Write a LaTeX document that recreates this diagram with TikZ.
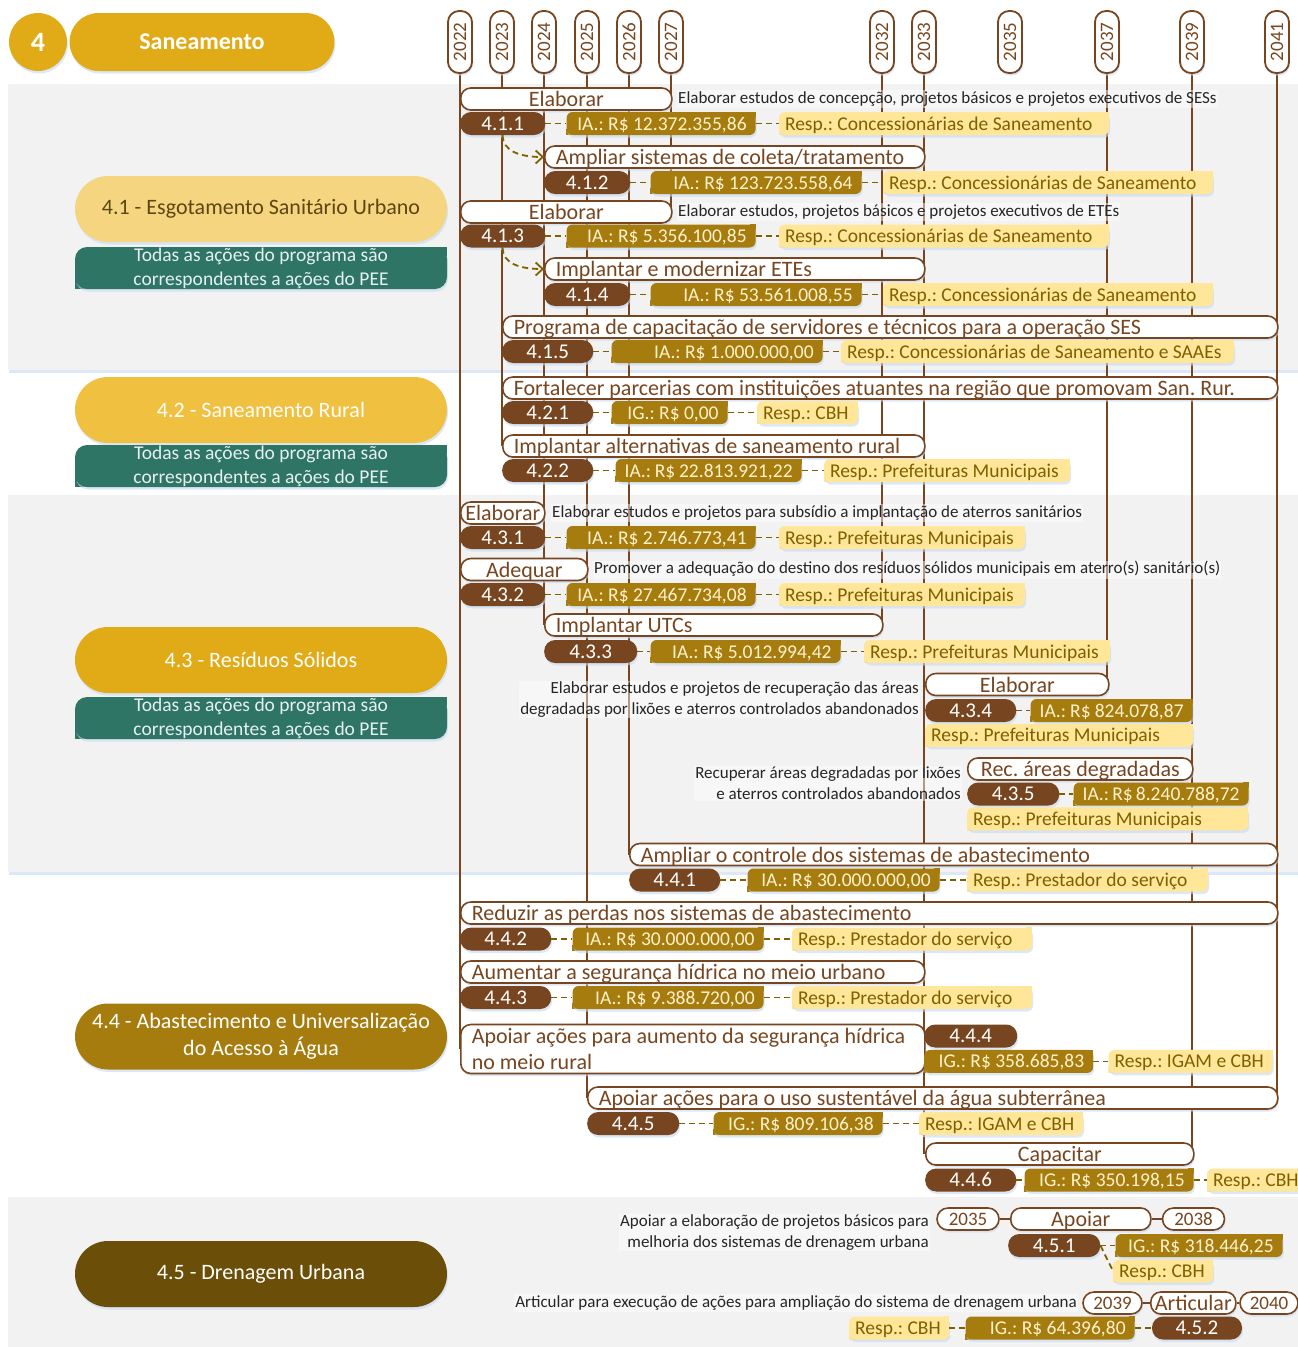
\documentclass[tikz,border=0pt]{standalone}
\usepackage{fontspec}
\setmainfont{Carlito}
\usepackage{xcolor}
\usepackage{tikz}
\usetikzlibrary{arrows.meta,positioning,backgrounds}
\definecolor{actbrown}{HTML}{774620}
\definecolor{iagold}{HTML}{A67C0E}
\definecolor{iatext}{HTML}{FFF2CC}
\definecolor{respfill}{HTML}{FFE699}
\definecolor{resptext}{HTML}{7F6000}
\definecolor{dashcol}{HTML}{7F6000}
\definecolor{desctext}{HTML}{262626}
\definecolor{bandgray}{HTML}{F2F2F2}
\definecolor{peeteal}{HTML}{2E7566}
\definecolor{peetext}{HTML}{E6F0EE}
\definecolor{headgold}{HTML}{E1AB18}
\definecolor{progone}{HTML}{F5D580}
\definecolor{progonetext}{HTML}{5C4712}
\definecolor{progtwo}{HTML}{F0C040}
\definecolor{progthree}{HTML}{E1AB18}
\definecolor{progfour}{HTML}{A67C0E}
\definecolor{progfive}{HTML}{6B4F08}
\definecolor{shadowblue}{HTML}{C5D9F1}
\pgfdeclarelayer{bands}
\pgfdeclarelayer{lines}
\pgfsetlayers{bands,lines,main}
\newcommand{\fsz}[2]{\fontsize{#1pt}{#2pt}\selectfont}
\tikzset{
  shad/.style={preaction={fill=shadowblue, opacity=0.6,
               transform canvas={xshift=1pt, yshift=-2.5pt}}},
  diagfill/.style 2 args={fill=#1, rounded corners=#2,
    append after command={\pgfextra{\pgfinterruptpath
      \fill[#1, sharp corners] (\tikzlastnode.north east) rectangle
        ([xshift=-#2, yshift=-#2]\tikzlastnode.north east);
      \fill[#1, sharp corners] (\tikzlastnode.south west) rectangle
        ([xshift=#2, yshift=#2]\tikzlastnode.south west);
      \endpgfinterruptpath}}},
  band/.style={fill=bandgray, shad},
  yearbase/.style={draw=actbrown, line width=1.8pt, fill=white, rounded corners=11pt,
               minimum width=62pt, minimum height=24pt, inner sep=0pt,
               font=\fsz{19}{22}, text=actbrown, shad},
  yearcap/.style={yearbase, rotate=90},
  yearflat/.style={yearbase, minimum height=22pt, line width=1.6pt},
  actbox/.style={draw=actbrown, line width=1.6pt, fill=white, rounded corners=10pt, shad,
               minimum height=22pt, inner xsep=3pt, inner ysep=1pt,
               text height=17.5pt, text depth=2.5pt, font=\fsz{22}{26},
               text=actbrown, anchor=west},
  actleft/.style={actbox, inner xsep=11pt, text width=#1, align=flush left},
  idpill/.style={fill=actbrown, rounded corners=11pt, shad, minimum height=23pt,
               inner xsep=2pt, inner ysep=1pt, text height=17pt, text depth=4pt,
               font=\fsz{21}{24}, text=white, anchor=west},
  iabox/.style={diagfill={iagold}{6pt}, shad, minimum height=23pt, inner xsep=9pt,
               inner ysep=1pt, text height=17pt, text depth=4pt, font=\fsz{19.5}{23},
               text=iatext, text width=#1, align=flush right},
  respbox/.style={diagfill={respfill}{6pt}, shad, minimum height=23pt, inner xsep=6pt,
               inner ysep=1pt, text height=17pt, text depth=4pt, font=\fsz{19.5}{23},
               text=resptext, text width=#1, align=flush left},
  desc/.style={font=\fsz{17}{21}, text=desctext, fill=white, fill opacity=0.45,
               text opacity=1, inner sep=1pt, text height=12pt, text depth=4pt},
  descr/.style={desc, align=flush right, anchor=east, text height=, text depth=},
  progpill/.style={rounded corners=33pt, minimum width=372pt, minimum height=66pt, shad,
               font=\fsz{22}{27}, text=white, align=center},
  pee/.style={diagfill={peeteal}{12pt}, shad, minimum width=372pt, minimum height=42pt,
               inner sep=0pt, font=\fsz{19.5}{24}, text=peetext, align=center},
  headcirc/.style={circle, fill=headgold, minimum size=58pt, inner sep=0pt, shad,
               font=\bfseries\fsz{28}{30}, text=white},
  headpill/.style={fill=headgold, rounded corners=29pt, minimum width=265pt,
               minimum height=58pt, shad, font=\bfseries\fsz{24}{28}, text=white},
  dashlink/.style={draw=dashcol, line width=1.8pt, dash pattern=on 6pt off 4pt},
  dasharrow/.style={dashlink, -{Straight Barb[length=7pt, width=13pt]}},
  yearline/.style={draw=actbrown, line width=2pt},
}

\begin{document}
\frenchspacing
\begin{tikzpicture}[x=1pt, y=-1pt]
  \useasboundingbox (0,0) rectangle (1298,1347);

  % bands
  \begin{pgfonlayer}{bands}
    \fill[band] (8,84) rectangle (1298,370);
    \fill[band] (8,495) rectangle (1298,872);
    \fill[band] (8,1197) rectangle (1305,1347);
  \end{pgfonlayer}

  % header
  \node[headcirc] (num) at (38,42) {4};
  \node[headpill] (head) at (202,42) {Saneamento};

  % years
  \foreach \yr/\xx in {2022/460, 2023/502, 2024/544, 2025/587, 2026/629, 2027/671,
                       2032/882, 2033/924, 2035/1010, 2037/1107, 2039/1192, 2041/1277}
    \node[yearcap] (y\yr) at (\xx,42) {\yr};

  % programs
  \node[progpill, fill=progone, text=progonetext] (g41) at (261,209) {4.1 - Esgotamento Sanitário Urbano};
  \node[pee] (pee41) at (261,268) {Todas as ações do programa são\\correspondentes a ações do PEE};
  \node[progpill, fill=progtwo] (g42) at (261,410) {4.2 - Saneamento Rural};
  \node[pee] (pee42) at (261,466) {Todas as ações do programa são\\correspondentes a ações do PEE};
  \node[progpill, fill=progthree] (g43) at (261,660) {4.3 - Resíduos Sólidos};
  \node[pee] (pee43) at (261,718) {Todas as ações do programa são\\correspondentes a ações do PEE};
  \node[progpill, fill=progfour] (g44) at (261,1036.5) {4.4 - Abastecimento e Universalização\\do Acesso à Água};
  \node[progpill, fill=progfive] (g45) at (261,1274) {4.5 - Drenagem Urbana};

  % 4.1.1
  \node[actbox, minimum width=211pt] (t411) at (460,99) {Elaborar};
  \node[desc, anchor=west] (d411) at (677,99) {Elaborar estudos de concepção, projetos básicos e projetos executivos de SESs};
  \node[idpill, minimum width=85pt] (p411) at (460,123.5) {4.1.1};
  \node[iabox=171pt, right=21pt of p411] (a411) {IA.:~R\$~12.372.355,86};
  \node[respbox=318pt, right=23pt of a411] (r411) {Resp.:~Concessionárias~de~Saneamento};
  % 4.1.2
  \node[actleft=358pt] (t412) at (544,157) {Ampliar sistemas de coleta/tratamento};
  \node[idpill, minimum width=86pt] (p412) at (544,182.5) {4.1.2};
  \node[iabox=193pt, right=20pt of p412] (a412) {IA.:~R\$~123.723.558,64};
  \node[respbox=318pt, right=21pt of a412] (r412) {Resp.:~Concessionárias~de~Saneamento};
  % 4.1.3
  \node[actbox, minimum width=211pt] (t413) at (460,212) {Elaborar};
  \node[desc, anchor=west] (d413) at (677,212) {Elaborar estudos, projetos básicos e projetos executivos de ETEs};
  \node[idpill, minimum width=85pt] (p413) at (460,236) {4.1.3};
  \node[iabox=171pt, right=21pt of p413] (a413) {IA.:~R\$~5.356.100,85};
  \node[respbox=318pt, right=23pt of a413] (r413) {Resp.:~Concessionárias~de~Saneamento};
  % 4.1.4
  \node[actleft=358pt] (t414) at (544,269) {Implantar e modernizar ETEs};
  \node[idpill, minimum width=86pt] (p414) at (544,294.5) {4.1.4};
  \node[iabox=193pt, right=20pt of p414] (a414) {IA.:~R\$~53.561.008,55};
  \node[respbox=318pt, right=21pt of a414] (r414) {Resp.:~Concessionárias~de~Saneamento};
  % 4.1.5
  \node[actleft=753pt] (t415) at (502,327) {Programa de capacitação de servidores e técnicos para a operação SES};
  \node[idpill, minimum width=91pt] (p415) at (502,351.5) {4.1.5};
  \node[iabox=193pt, right=18pt of p415] (a415) {IA.:~R\$~1.000.000,00};
  \node[respbox=381pt, right=18pt of a415] (r415) {Resp.:~Concessionárias~de~Saneamento~e~SAAEs};

  % 4.2.1
  \node[actleft=753pt] (t421) at (502,388) {Fortalecer parcerias com instituições atuantes na região que promovam San. Rur.};
  \node[idpill, minimum width=91pt] (p421) at (502,412.5) {4.2.1};
  \node[iabox=98pt, right=18pt of p421] (a421) {IG.:~R\$~0,00};
  \node[respbox=89pt, right=29pt of a421] (r421) {Resp.:~CBH};
  % 4.2.2
  \node[actleft=400pt] (t422) at (502,446) {Implantar alternativas de saneamento rural};
  \node[idpill, minimum width=91pt] (p422) at (502,470.5) {4.2.2};
  \node[iabox=168pt, right=22pt of p422] (a422) {IA.:~R\$~22.813.921,22};
  \node[respbox=234pt, right=22pt of a422] (r422) {Resp.:~Prefeituras~Municipais};

  % 4.3.1
  \node[actbox, minimum width=84pt] (t431) at (460,513) {Elaborar};
  \node[desc, anchor=west] (d431) at (551,513) {Elaborar estudos e projetos para subsídio a implantação de aterros sanitários};
  \node[idpill, minimum width=85pt] (p431) at (460,537.5) {4.3.1};
  \node[iabox=171pt, right=21pt of p431] (a431) {IA.:~R\$~2.746.773,41};
  \node[respbox=234pt, right=23pt of a431] (r431) {Resp.:~Prefeituras~Municipais};
  % 4.3.2
  \node[actbox, minimum width=127pt] (t432) at (460,569.5) {Adequar};
  \node[desc, anchor=west] (d432) at (593,569.5) {Promover a adequação do destino dos resíduos sólidos municipais em aterro(s) sanitário(s)};
  \node[idpill, minimum width=85pt] (p432) at (460,594.5) {4.3.2};
  \node[iabox=171pt, right=21pt of p432] (a432) {IA.:~R\$~27.467.734,08};
  \node[respbox=234pt, right=23pt of a432] (r432) {Resp.:~Prefeituras~Municipais};
  % 4.3.3
  \node[actleft=316pt] (t433) at (544,625) {Implantar UTCs};
  \node[idpill, minimum width=93pt] (p433) at (544,651.5) {4.3.3};
  \node[iabox=172pt, right=13pt of p433] (a433) {IA.:~R\$~5.012.994,42};
  \node[respbox=234pt, right=23pt of a433] (r433) {Resp.:~Prefeituras~Municipais};
  % 4.3.4
  \node[descr] (d434) at (920,699.5) {Elaborar estudos e projetos de recuperação das áreas\\degradadas por lixões e aterros controlados abandonados};
  \node[actbox, minimum width=183pt] (t434) at (925,684.5) {Elaborar};
  \node[idpill, minimum width=91pt] (p434) at (925,710.5) {4.3.4};
  \node[iabox=144pt, right=14pt of p434] (a434) {IA.:~R\$~824.078,87};
  \node[respbox=256pt, below=1.5pt of p434.south west, anchor=north west] (r434) {Resp.:~Prefeituras~Municipais};
  % 4.3.5
  \node[descr] (d435) at (962,783.5) {Recuperar áreas degradadas por lixões\\e aterros controlados abandonados};
  \node[actbox, minimum width=225pt] (t435) at (967,769) {Rec. áreas degradadas};
  \node[idpill, minimum width=92pt] (p435) at (967,794) {4.3.5};
  \node[iabox=157pt, right=14pt of p435] (a435) {IA.:~R\$~8.240.788,72};
  \node[respbox=269pt, below=1.5pt of p435.south west, anchor=north west] (r435) {Resp.:~Prefeituras~Municipais};

  % 4.4.1
  \node[actleft=626pt] (t441) at (629,854.5) {Ampliar o controle dos sistemas de abastecimento};
  \node[idpill, minimum width=91pt] (p441) at (629,880) {4.4.1};
  \node[iabox=174pt, right=27pt of p441] (a441) {IA.:~R\$~30.000.000,00};
  \node[respbox=229pt, right=27pt of a441] (r441) {Resp.:~Prestador~do~serviço};
  % 4.4.2
  \node[actleft=795pt] (t442) at (460,913) {Reduzir as perdas nos sistemas de abastecimento};
  \node[idpill, minimum width=91pt] (p442) at (460,939) {4.4.2};
  \node[iabox=173pt, right=21pt of p442] (a442) {IA.:~R\$~30.000.000,00};
  \node[respbox=228pt, right=28pt of a442] (r442) {Resp.:~Prestador~do~serviço};
  % 4.4.3
  \node[actleft=442pt] (t443) at (460,972) {Aumentar a segurança hídrica no meio urbano};
  \node[idpill, minimum width=91pt] (p443) at (460,997.5) {4.4.3};
  \node[iabox=173pt, right=21pt of p443] (a443) {IA.:~R\$~9.388.720,00};
  \node[respbox=228pt, right=28pt of a443] (r443) {Resp.:~Prestador~do~serviço};
  % 4.4.4
  \node[actleft=442pt, minimum height=49pt, text height=, text depth=] (t444) at (460,1049) {Apoiar ações para aumento da segurança hídrica\\no meio rural};
  \node[idpill, minimum width=93pt] (p444) at (924,1036) {4.4.4};
  \node[iabox=151pt, below=2pt of p444.south west, anchor=north west] (a444) {IG.:~R\$~358.685,83};
  \node[respbox=152pt, right=15pt of a444] (r444) {Resp.:~IGAM~e~CBH};
  % 4.4.5
  \node[actleft=668pt] (t445) at (587,1098) {Apoiar ações para o uso sustentável da água subterrânea};
  \node[idpill, minimum width=92pt] (p445) at (587,1123.5) {4.4.5};
  \node[iabox=151pt, right=34pt of p445] (a445) {IG.:~R\$~809.106,38};
  \node[respbox=152pt, right=36pt of a445] (r445) {Resp.:~IGAM~e~CBH};
  % 4.4.6
  \node[actbox, minimum width=268pt] (t446) at (925,1154) {Capacitar};
  \node[idpill, minimum width=91pt] (p446) at (925,1180) {4.4.6};
  \node[iabox=151pt, right=8pt of p446] (a446) {IG.:~R\$~350.198,15};
  \node[respbox=88pt, right=13pt of a446] (r446) {Resp.:~CBH};

  % 4.5.1
  \node[descr] (d451) at (930,1232.5) {Apoiar a elaboração de projetos básicos para\\melhoria dos sistemas de drenagem urbana};
  \node[yearflat] (s451) at (968,1219) {2035};
  \node[actbox, minimum width=140pt] (t451) at (1010,1219) {Apoiar};
  \node[yearflat] (e451) at (1193.5,1219) {2038};
  \node[idpill, minimum width=92pt] (p451) at (1008,1245.5) {4.5.1};
  \node[iabox=149pt, right=15pt of p451] (a451) {IG.:~R\$~318.446,25};
  \node[respbox=88pt, anchor=west] (r451) at (1113,1271) {Resp.:~CBH};
  % 4.5.2
  \node[desc, anchor=east] (d452) at (1078,1303) {Articular para execução de ações para ampliação do sistema de drenagem urbana};
  \node[yearflat, minimum width=59pt] (s452) at (1112.5,1303) {2039};
  \node[actbox, minimum width=85pt] (t452) at (1150,1303) {Articular};
  \node[yearflat, minimum width=58pt] (e452) at (1269,1303) {2040};
  \node[respbox=88pt, anchor=west] (r452) at (849,1328) {Resp.:~CBH};
  \node[iabox=151pt, right=16pt of r452] (a452) {IG.:~R\$~64.396,80};
  \node[idpill, minimum width=90pt, right=17pt of a452] (p452) {4.5.2};

  % year lines
  \begin{pgfonlayer}{lines}
    \foreach \yr/\last in {2022/t444, 2023/t422, 2024/t433, 2025/t445, 2026/t441, 2027/t413,
                           2032/t433, 2033/t446, 2037/t434, 2039/t446, 2041/t445}
      \draw[yearline] (y\yr) -- (y\yr |- \last.center);
    \draw[yearline] (s451) -- (t451) -- (e451);
    \draw[yearline] (s452) -- (t452) -- (e452);
  \end{pgfonlayer}

  % dashed links
  \foreach \r in {411,412,413,414,415,421,422,431,432,433,441,442,443,445,446}{
    \draw[dashlink] (p\r) -- (a\r);
    \draw[dashlink] (a\r) -- (r\r);
  }
  \draw[dashlink] (p434) -- (a434);
  \draw[dashlink] (p435) -- (a435);
  \draw[dashlink] (a444) -- (r444);
  \draw[dashlink] (p451) -- (a451);
  \draw[dashlink] (p451.east) -- (r451.west);
  \draw[dashlink] (r452) -- (a452);
  \draw[dashlink] (a452) -- (p452);
  \draw[dasharrow] (p411.south) .. controls +(0,16) and +(-24,0) .. (t412.west);
  \draw[dasharrow] (p413.south) .. controls +(0,16) and +(-24,0) .. (t414.west);

\end{tikzpicture}
\end{document}
